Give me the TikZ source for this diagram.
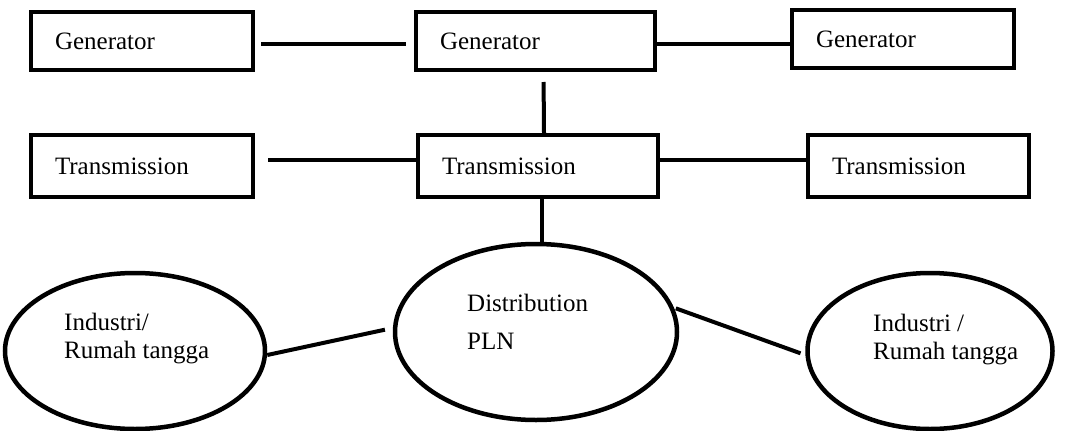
\documentclass[tikz,border=0pt]{standalone}
\usepackage{fontspec}
\setmainfont{Liberation Serif}
\usetikzlibrary{shapes.geometric}

\tikzset{
  stagebox/.style={draw, line width=4pt, rectangle, inner xsep=24pt, inner ysep=0pt,
    align=left, anchor=center},
  userell/.style={draw, line width=4.5pt, ellipse, inner sep=0pt},
  link/.style={line width=4pt},
  txt/.style={inner sep=0pt, align=left, anchor=north west}
}

\begin{document}
\begin{tikzpicture}[x=1pt,y=-1pt,font=\fontsize{25}{28}\selectfont]
      \useasboundingbox (0,0) rectangle (1071,431);

      \node[stagebox, text width=174pt, minimum height=58pt] (gen1) at (142,41) {Generator};
      \node[stagebox, text width=191pt, minimum height=58pt] (gen2) at (535.5,41) {Generator};
      \node[stagebox, text width=174pt, minimum height=58pt] (gen3) at (903,39) {Generator};

      \node[stagebox, text width=174pt, minimum height=62pt] (trans1) at (142,166) {Transmission};
      \node[stagebox, text width=192pt, minimum height=62pt] (trans2) at (538,166) {Transmission};
      \node[stagebox, text width=173pt, minimum height=62pt] (trans3) at (918.5,166) {Transmission};

      \node[userell, minimum width=282pt, minimum height=176pt] (dist) at (536,332) {};
      \node[userell, minimum width=260pt, minimum height=156pt] (ind1) at (135,351) {};
      \node[userell, minimum width=245pt, minimum height=156pt] (ind2) at (930,351) {};

      \node[txt] (distT) at (467,294) {Distribution\\[10pt]PLN};
      \node[txt] (ind1T) at (64,313) {Industri/\\Rumah tangga};
      \node[txt] (ind2T) at (873,314) {Industri /\\Rumah tangga};

      \draw[link, shorten <=6pt, shorten >=8pt] (gen1.east |- 0,44) -- (gen2.west |- 0,44);
      \draw[link] (gen2.east |- 0,44) -- (gen3.west |- 0,44);
      \draw[link, shorten <=10pt] ([xshift=8pt]gen2.south) -- ([xshift=6pt]trans2.north);

      \draw[link, shorten <=13pt] (trans1.east |- 0,160) -- (trans2.west |- 0,160);
      \draw[link] (trans2.east |- 0,160) -- ([xshift=4pt]trans3.west |- 0,160);
      \draw[link] ([xshift=4pt]trans2.south) -- ([xshift=4pt]trans2.south |- dist.north);

      \draw[link, shorten >=8pt] ([yshift=-4pt]ind1.east) -- ([yshift=4pt]dist.west);
      \draw[link, shorten <=2pt, shorten >=5pt] (dist.10) -- ([yshift=-4pt]ind2.west);
    \end{tikzpicture}
\end{document}
